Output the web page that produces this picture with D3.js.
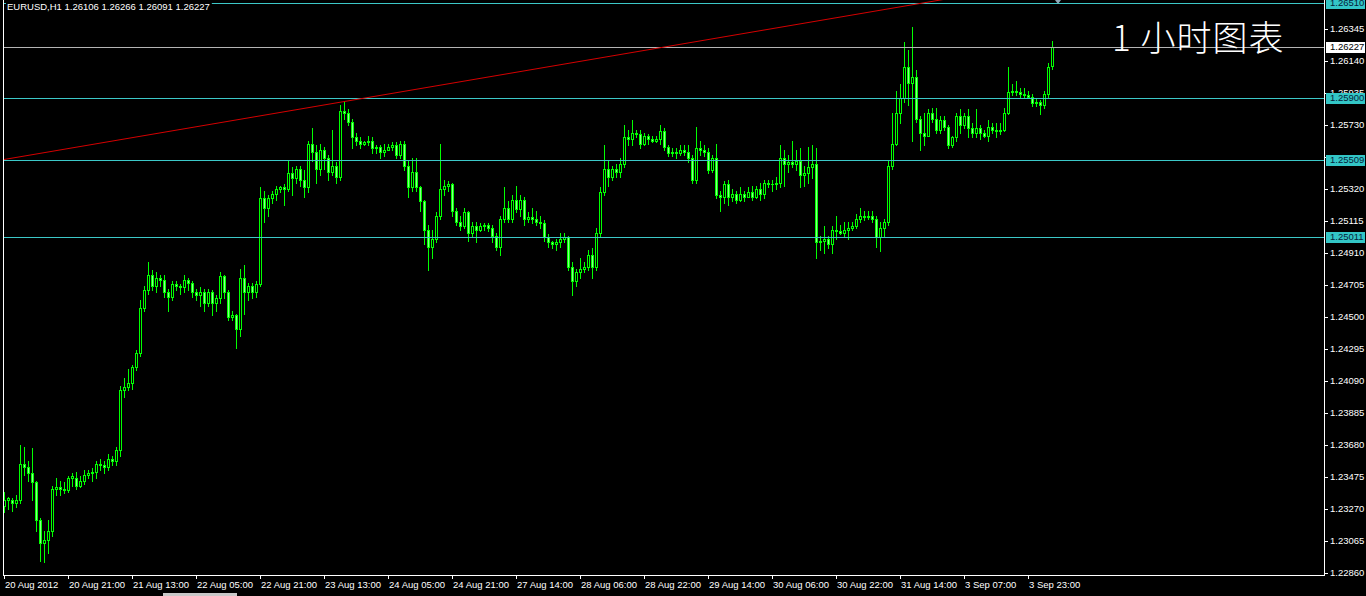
<!DOCTYPE html>
<html><head><meta charset="utf-8">
<script src="https://cdn.jsdelivr.net/npm/d3@7"></script>
<style>html,body{margin:0;padding:0;background:#000;overflow:hidden}svg{display:block}</style>
</head><body><svg id="c" width="1366" height="596"></svg>
<script>
// ---------- DATA ----------
const symbolName = 'EURUSD,H1';
const chartNote = '1 小时图表';
const opens = [
1.2329,1.2333,1.2333,1.2331,1.2333,1.2356,1.2354,1.2350,1.2344,1.2320,
1.2305,1.2307,1.2313,1.2340,1.2341,1.2340,1.2339,1.2347,1.2347,1.2342,
1.2345,1.2349,1.2350,1.2351,1.2356,1.2355,1.2354,1.2359,1.2358,1.2365,
1.2403,1.2405,1.2408,1.2418,1.2427,1.2456,1.2467,1.2477,1.2470,1.2475,
1.2474,1.2466,1.2463,1.2471,1.2470,1.2469,1.2474,1.2472,1.2466,1.2464,
1.2466,1.2459,1.2466,1.2459,1.2462,1.2476,1.2466,1.2450,1.2451,1.2442,
1.2475,1.2466,1.2470,1.2466,1.2471,1.2526,1.2520,1.2526,1.2529,1.2532,
1.2533,1.2532,1.2542,1.2539,1.2545,1.2538,1.2533,1.2561,1.2556,1.2545,
1.2557,1.2552,1.2543,1.2547,1.2540,1.2582,1.2581,1.2575,1.2565,1.2563,
1.2561,1.2562,1.2563,1.2558,1.2559,1.2556,1.2557,1.2559,1.2560,1.2554,
1.2561,1.2547,1.2533,1.2543,1.2533,1.2524,1.2506,1.2495,1.2500,1.2515,
1.2532,1.2534,1.2535,1.2518,1.2511,1.2508,1.2517,1.2504,1.2508,1.2506,
1.2508,1.2509,1.2507,1.2502,1.2495,1.2513,1.2520,1.2513,1.2525,1.2519,
1.2525,1.2513,1.2514,1.2513,1.2511,1.2510,1.2501,1.2498,1.2497,1.2498,
1.2500,1.2501,1.2482,1.2473,1.2479,1.2481,1.2482,1.2490,1.2482,1.2504,
1.2530,1.2545,1.2540,1.2545,1.2543,1.2548,1.2565,1.2564,1.2568,1.2567,
1.2561,1.2566,1.2564,1.2563,1.2564,1.2569,1.2559,1.2555,1.2556,1.2555,
1.2557,1.2556,1.2552,1.2538,1.2558,1.2557,1.2556,1.2544,1.2552,1.2528,
1.2527,1.2535,1.2527,1.2529,1.2525,1.2529,1.2527,1.2530,1.2527,1.2532,
1.2529,1.2536,1.2535,1.2535,1.2536,1.2552,1.2548,1.2549,1.2548,1.2550,
1.2541,1.2542,1.2546,1.2548,1.2498,1.2499,1.2500,1.2497,1.2506,1.2505,
1.2504,1.2506,1.2507,1.2508,1.2513,1.2515,1.2514,1.2515,1.2513,1.2501,
1.2507,1.2511,1.2547,1.2561,1.2581,1.2590,1.2610,1.2600,1.2604,1.2577,
1.2568,1.2566,1.2581,1.2577,1.2570,1.2576,1.2572,1.2560,1.2565,1.2579,
1.2573,1.2579,1.2571,1.2568,1.2571,1.2568,1.2566,1.2572,1.2570,1.2569,
1.2570,1.2581,1.2594,1.2595,1.2594,1.2593,1.2592,1.2591,1.2587,1.2588,
1.2586,1.2593,1.26106];
const highs = [
1.2338,1.2335,1.2334,1.2336,1.2368,1.2367,1.2358,1.2366,1.2345,1.2321,
1.2313,1.2320,1.2342,1.2347,1.2345,1.2344,1.2348,1.2350,1.2351,1.2348,
1.2352,1.2352,1.2353,1.2358,1.2359,1.2358,1.2362,1.2361,1.2367,1.2406,
1.2411,1.2417,1.2419,1.2429,1.2461,1.2470,1.2485,1.2480,1.2479,1.2477,
1.2477,1.2468,1.2473,1.2473,1.2471,1.2477,1.2475,1.2473,1.2468,1.2469,
1.2468,1.2468,1.2467,1.2464,1.2479,1.2477,1.2467,1.2454,1.2452,1.2481,
1.2483,1.2472,1.2472,1.2473,1.2533,1.2531,1.2528,1.2531,1.2534,1.2534,
1.2535,1.2550,1.2546,1.2547,1.2547,1.2544,1.2563,1.2571,1.2560,1.2561,
1.2559,1.2554,1.2570,1.2549,1.2586,1.2588,1.2583,1.2577,1.2568,1.2565,
1.2563,1.2566,1.2565,1.2560,1.2560,1.2561,1.2561,1.2562,1.2562,1.2563,
1.2563,1.2550,1.2552,1.2552,1.2534,1.2525,1.2509,1.2506,1.2517,1.2561,
1.2538,1.2537,1.2536,1.2520,1.2515,1.2520,1.2518,1.2511,1.2511,1.2510,
1.2510,1.2510,1.2509,1.2504,1.2515,1.2533,1.2524,1.2528,1.2534,1.2528,
1.2527,1.2517,1.2520,1.2518,1.2515,1.2512,1.2503,1.2499,1.2500,1.2504,
1.2504,1.2502,1.2485,1.2481,1.2488,1.2485,1.2493,1.2494,1.2507,1.2533,
1.2560,1.2550,1.2547,1.2548,1.2552,1.2573,1.2570,1.2576,1.2570,1.2570,
1.2568,1.2567,1.2566,1.2566,1.2573,1.2571,1.2560,1.2558,1.2558,1.2560,
1.2560,1.2560,1.2554,1.2572,1.2563,1.2560,1.2558,1.2554,1.2561,1.2531,
1.2537,1.2538,1.2532,1.2531,1.2533,1.2531,1.2533,1.2534,1.2534,1.2536,
1.2538,1.2538,1.2538,1.2540,1.2560,1.2557,1.2554,1.2563,1.2557,1.2558,
1.2547,1.2559,1.2560,1.2558,1.2502,1.2508,1.2502,1.2508,1.2515,1.2509,
1.2511,1.2511,1.2511,1.2516,1.2520,1.2518,1.2518,1.2518,1.2515,1.2511,
1.2513,1.2550,1.2581,1.2595,1.2599,1.2626,1.2621,1.2636,1.2608,1.2579,
1.2581,1.2583,1.2584,1.2584,1.2579,1.2579,1.2573,1.2566,1.2581,1.2583,
1.2581,1.2583,1.2574,1.2583,1.2573,1.2570,1.2576,1.2574,1.2574,1.2574,
1.2584,1.2610,1.2599,1.2601,1.2597,1.2597,1.2595,1.2593,1.2590,1.2589,
1.2595,1.2613,1.26266];
const lows = [
1.2325,1.2327,1.2326,1.2328,1.2331,1.2349,1.2345,1.2333,1.2313,1.2294,
1.2293,1.2299,1.2310,1.2336,1.2336,1.2337,1.2338,1.2342,1.2340,1.2341,
1.2343,1.2347,1.2345,1.2347,1.2352,1.2350,1.2352,1.2355,1.2355,1.2361,
1.2399,1.2403,1.2404,1.2416,1.2425,1.2454,1.2465,1.2467,1.2466,1.2470,
1.2463,1.2454,1.2461,1.2467,1.2465,1.2466,1.2467,1.2463,1.2461,1.2457,
1.2454,1.2457,1.2451,1.2454,1.2459,1.2462,1.2448,1.2448,1.2430,1.2438,
1.2452,1.2461,1.2462,1.2463,1.2470,1.2511,1.2515,1.2523,1.2525,1.2530,
1.2522,1.2531,1.2528,1.2536,1.2534,1.2527,1.2530,1.2550,1.2536,1.2541,
1.2545,1.2538,1.2541,1.2536,1.2538,1.2577,1.2573,1.2558,1.2560,1.2558,
1.2560,1.2560,1.2555,1.2555,1.2552,1.2553,1.2557,1.2557,1.2552,1.2552,
1.2544,1.2527,1.2531,1.2531,1.2518,1.2497,1.2480,1.2488,1.2498,1.2513,
1.2528,1.2531,1.2515,1.2509,1.2506,1.2507,1.2499,1.2502,1.2498,1.2505,
1.2506,1.2505,1.2498,1.2493,1.2490,1.2511,1.2511,1.2511,1.2517,1.2515,
1.2509,1.2511,1.2510,1.2509,1.2507,1.2499,1.2495,1.2494,1.2493,1.2495,
1.2498,1.2480,1.2464,1.2470,1.2475,1.2479,1.2480,1.2475,1.2480,1.2502,
1.2528,1.2534,1.2538,1.2540,1.2540,1.2546,1.2560,1.2560,1.2565,1.2558,
1.2560,1.2561,1.2562,1.2562,1.2561,1.2557,1.2553,1.2553,1.2552,1.2554,
1.2554,1.2549,1.2536,1.2536,1.2554,1.2553,1.2542,1.2543,1.2526,1.2518,
1.2523,1.2522,1.2524,1.2523,1.2524,1.2524,1.2527,1.2525,1.2526,1.2525,
1.2526,1.2533,1.2531,1.2532,1.2533,1.2534,1.2543,1.2546,1.2544,1.2533,
1.2534,1.2536,1.2539,1.2488,1.2493,1.2491,1.2494,1.2491,1.2500,1.2503,
1.2502,1.2500,1.2506,1.2507,1.2511,1.2512,1.2513,1.2511,1.2495,1.2492,
1.2501,1.2509,1.2545,1.2560,1.2574,1.2588,1.2586,1.2563,1.2575,1.2557,
1.2560,1.2566,1.2575,1.2568,1.2568,1.2570,1.2558,1.2559,1.2563,1.2568,
1.2571,1.2565,1.2565,1.2565,1.2564,1.2565,1.2563,1.2568,1.2565,1.2567,
1.2569,1.2580,1.2592,1.2592,1.2591,1.2590,1.2590,1.2585,1.2585,1.2580,
1.2584,1.2591,1.26091];
const closes = [
1.2333,1.2334,1.2331,1.2333,1.2356,1.2354,1.2350,1.2344,1.2320,1.2305,
1.2307,1.2313,1.2340,1.2341,1.2340,1.2339,1.2347,1.2348,1.2342,1.2345,
1.2349,1.2350,1.2351,1.2356,1.2355,1.2354,1.2359,1.2358,1.2365,1.2403,
1.2405,1.2408,1.2418,1.2427,1.2456,1.2467,1.2477,1.2470,1.2475,1.2474,
1.2466,1.2463,1.2471,1.2470,1.2469,1.2474,1.2472,1.2466,1.2464,1.2466,
1.2459,1.2466,1.2459,1.2462,1.2476,1.2466,1.2450,1.2451,1.2442,1.2475,
1.2466,1.2470,1.2466,1.2471,1.2526,1.2520,1.2526,1.2529,1.2532,1.2533,
1.2532,1.2542,1.2539,1.2545,1.2538,1.2533,1.2561,1.2556,1.2545,1.2557,
1.2552,1.2543,1.2547,1.2540,1.2582,1.2581,1.2575,1.2565,1.2563,1.2561,
1.2562,1.2563,1.2558,1.2559,1.2556,1.2557,1.2559,1.2560,1.2554,1.2561,
1.2547,1.2533,1.2543,1.2533,1.2524,1.2506,1.2495,1.2500,1.2515,1.2532,
1.2534,1.2535,1.2518,1.2511,1.2508,1.2517,1.2504,1.2508,1.2506,1.2508,
1.2509,1.2507,1.2502,1.2495,1.2513,1.2520,1.2513,1.2525,1.2519,1.2525,
1.2513,1.2514,1.2513,1.2511,1.2510,1.2501,1.2498,1.2497,1.2498,1.2500,
1.2501,1.2482,1.2473,1.2479,1.2481,1.2482,1.2490,1.2482,1.2504,1.2530,
1.2545,1.2540,1.2545,1.2543,1.2548,1.2565,1.2564,1.2568,1.2567,1.2561,
1.2566,1.2564,1.2563,1.2564,1.2569,1.2559,1.2555,1.2556,1.2555,1.2557,
1.2556,1.2552,1.2538,1.2558,1.2557,1.2556,1.2544,1.2552,1.2528,1.2527,
1.2535,1.2527,1.2529,1.2525,1.2529,1.2527,1.2530,1.2527,1.2532,1.2529,
1.2536,1.2535,1.2535,1.2536,1.2552,1.2548,1.2549,1.2548,1.2550,1.2541,
1.2542,1.2546,1.2548,1.2498,1.2499,1.2500,1.2497,1.2506,1.2505,1.2504,
1.2506,1.2507,1.2508,1.2513,1.2515,1.2514,1.2515,1.2513,1.2501,1.2507,
1.2511,1.2547,1.2561,1.2581,1.2590,1.2610,1.2600,1.2604,1.2577,1.2568,
1.2566,1.2581,1.2577,1.2570,1.2576,1.2572,1.2560,1.2565,1.2579,1.2573,
1.2579,1.2571,1.2568,1.2571,1.2568,1.2566,1.2572,1.2570,1.2569,1.2570,
1.2581,1.2594,1.2595,1.2594,1.2593,1.2592,1.2591,1.2587,1.2588,1.2586,
1.2593,1.2610,1.26227];
const timeTickBars = [0,16,32,48,64,80,96,112,128,144,160,176,192,208,224,240,256];
const timeTickLabels = ['20 Aug 2012','20 Aug 21:00','21 Aug 13:00','22 Aug 05:00','22 Aug 21:00',
  '23 Aug 13:00','24 Aug 05:00','24 Aug 21:00','27 Aug 14:00','28 Aug 06:00','28 Aug 22:00',
  '29 Aug 14:00','30 Aug 06:00','30 Aug 22:00','31 Aug 14:00','3 Sep 07:00','3 Sep 23:00'];
const priceTicks = [1.22860,1.23065,1.23270,1.23475,1.23680,1.23885,1.24090,1.24295,1.24500,
  1.24705,1.24910,1.25115,1.25320,1.25525,1.25730,1.25935,1.26140,1.26345];
const levelLines = [1.26510,1.25900,1.25509,1.25011];
const bidPrice = 1.26227;
const trendAnchors = [[0,1.25509],[200,1.26382]];
const priceDomain = [1.228408,1.265308];

// ---------- LAYOUT / STYLE ----------
const W=1366,H=596;
const plotL=4, plotR=1324, plotB=575;
const FONT='"Liberation Sans", Arial, sans-serif';
const FS='9.5px';
const GREEN='#00ff00', CYAN='#3cc8c8';

const svg=d3.select('#c');
svg.append('rect').attr('width',W).attr('height',H).attr('fill','#000');

const N=closes.length;
const x=d3.scaleBand().domain(d3.range(N)).range([2,2+4*N]).padding(0);
const cx=i=>Math.round(x(i)+x.bandwidth()/2);
const y=d3.scaleLinear().domain(priceDomain).range([plotB+1,0]);
const py=v=>Math.round(y(v));

const defs=svg.append('defs');
defs.append('clipPath').attr('id','plotclip').append('rect')
  .attr('x',plotL).attr('y',0).attr('width',plotR-plotL).attr('height',plotB);

const plot=svg.append('g').attr('clip-path','url(#plotclip)').attr('shape-rendering','crispEdges');

// candles
const cg=plot.append('g');
d3.range(N).forEach(i=>{
  const o=opens[i],h=highs[i],l=lows[i],c=closes[i];
  const X=cx(i);
  cg.append('line').attr('x1',X+0.5).attr('x2',X+0.5).attr('y1',py(h)).attr('y2',py(l)+1)
    .attr('stroke',GREEN).attr('stroke-width',1);
  const top=py(Math.max(o,c)), bot=py(Math.min(o,c));
  if(bot-top<1){
    cg.append('line').attr('x1',X-1).attr('x2',X+2).attr('y1',top+0.5).attr('y2',top+0.5)
      .attr('stroke',GREEN);
  } else {
    cg.append('rect').attr('x',X-0.5).attr('y',top+0.5).attr('width',2).attr('height',bot-top)
      .attr('fill',c>o?'#000':'#8cff8c').attr('stroke',GREEN).attr('stroke-width',1);
  }
});

// level lines
levelLines.forEach(v=>{
  plot.append('line').attr('x1',plotL).attr('x2',plotR).attr('y1',py(v)+0.5).attr('y2',py(v)+0.5)
    .attr('stroke',CYAN).attr('stroke-width',1);
});
plot.append('line').attr('x1',plotL).attr('x2',plotR).attr('y1',py(bidPrice)+0.5).attr('y2',py(bidPrice)+0.5)
  .attr('stroke','#b4b4b4').attr('stroke-width',1);

// trend line (extended to the right)
const xi=d3.scaleLinear().domain([0,N-1]).range([cx(0),cx(N-1)]);
const slope=(trendAnchors[1][1]-trendAnchors[0][1])/(trendAnchors[1][0]-trendAnchors[0][0]);
const extIdx=400;
svg.append('g').attr('clip-path','url(#plotclip)').append('line')
  .attr('x1',xi(trendAnchors[0][0])).attr('y1',y(trendAnchors[0][1]))
  .attr('x2',xi(extIdx)).attr('y2',y(trendAnchors[0][1]+slope*(extIdx-trendAnchors[0][0])))
  .attr('stroke','#d40000').attr('stroke-width',1);

// chart shift marker
svg.append('path').attr('d',`M${xi(263.5)-3},0 L${xi(263.5)+3},0 L${xi(263.5)},4 Z`).attr('fill','#8fa8b8');

// frame
const fr=svg.append('g').attr('shape-rendering','crispEdges').attr('stroke','#ffffff').attr('stroke-width',1);
fr.append('line').attr('x1',plotL-0.5).attr('x2',plotL-0.5).attr('y1',0).attr('y2',plotB+1);
fr.append('line').attr('x1',plotR+0.5).attr('x2',plotR+0.5).attr('y1',0).attr('y2',plotB+1);
fr.append('line').attr('x1',plotL-1).attr('x2',plotR+1).attr('y1',plotB+0.5).attr('y2',plotB+0.5);

// bottom window strip
svg.append('rect').attr('x',163).attr('y',593).attr('width',74).attr('height',3).attr('fill','#c8c8c8');

// title with black background
const tg=svg.append('g');
const tt=tg.append('text').attr('x',7).attr('y',9.5).attr('fill','#fff')
  .attr('font-family',FONT).attr('font-size',FS)
  .text(symbolName+'  '+[opens[N-1],highs[N-1],lows[N-1],closes[N-1]].map(v=>v.toFixed(5)).join(' '));
const bb=tt.node().getBBox();
tg.insert('rect','text').attr('x',bb.x-1).attr('y',0).attr('width',bb.width+3).attr('height',bb.y+bb.height+1).attr('fill','#000');

// price axis
const ax=svg.append('g');
const tagPrices=levelLines.concat([bidPrice]);
priceTicks.forEach(v=>{
  const Y=py(v);
  ax.append('line').attr('x1',plotR+1).attr('x2',plotR+4).attr('y1',Y+0.5).attr('y2',Y+0.5)
    .attr('stroke','#fff').attr('shape-rendering','crispEdges');
  // labels fully covered by a price tag are not visible in the original
  if(tagPrices.some(t=>Math.abs(py(t)-Y)<5)) return;
  ax.append('text').attr('x',plotR+6).attr('y',Y).attr('dy','0.35em').attr('fill','#fff')
    .attr('font-family',FONT).attr('font-size',FS).text(v.toFixed(5));
});
function tag(v,bg,fg){
  const Y=py(v);
  ax.append('rect').attr('x',plotR+2).attr('y',Y-5).attr('width',W-plotR-3).attr('height',11).attr('fill',bg);
  ax.append('text').attr('x',plotR+6).attr('y',Y).attr('dy','0.35em').attr('fill',fg)
    .attr('font-family',FONT).attr('font-size',FS).text(v.toFixed(5));
}
levelLines.forEach(v=>tag(v,'#33c6c6','#06223a'));
tag(bidPrice,'#ffffff','#000000');

// time axis
timeTickBars.forEach((b,k)=>{
  const X=cx(b);
  ax.append('line').attr('x1',X+0.5).attr('x2',X+0.5).attr('y1',plotB+1).attr('y2',plotB+4)
    .attr('stroke','#fff').attr('shape-rendering','crispEdges');
  ax.append('text').attr('x',X+1).attr('y',588).attr('fill','#fff')
    .attr('font-family',FONT).attr('font-size',FS).text(timeTickLabels[k]);
});

// note
svg.append('text').attr('x',1112).attr('y',51).attr('fill','#fff')
  .attr('font-family','"Noto Sans CJK SC", sans-serif').attr('font-weight',300).attr('font-size','35px')
  .attr('letter-spacing','1px')
  .text(chartNote);
</script>
</body></html>
